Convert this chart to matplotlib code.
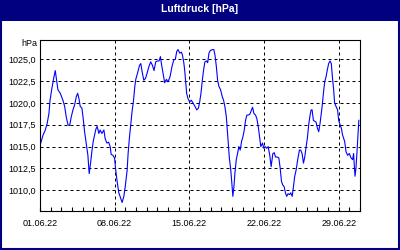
import pandas as pd
import matplotlib
matplotlib.use('Agg')
import matplotlib.pyplot as plt
import matplotlib.dates as mdates
from matplotlib.ticker import FuncFormatter
from matplotlib.patches import Rectangle

plt.rcParams['font.family'] = ['Liberation Sans', 'DejaVu Sans']

# days since 01.06.22 and pressure in hPa
days = [0.07, 0.28, 0.50, 0.68, 0.84, 0.94, 1.12, 1.28, 1.43, 1.56, 1.68, 1.84, 1.90,
        2.15, 2.31, 2.46, 2.62, 2.78, 2.93, 3.09, 3.25, 3.40, 3.53, 3.65, 3.77, 3.93,
        4.05, 4.18, 4.33, 4.49, 4.61, 4.74, 4.86, 4.99, 5.12, 5.24, 5.36, 5.52, 5.64,
        5.80, 5.99, 6.11, 6.27, 6.43, 6.58, 6.67, 6.83, 6.99, 7.08, 7.23, 7.39, 7.53,
        7.70, 7.86, 8.00, 8.17, 8.26, 8.39, 8.51, 8.63, 8.77, 8.89, 8.98, 9.14, 9.33,
        9.45, 9.57, 9.73, 9.89, 10.04, 10.22, 10.38, 10.54, 10.69, 10.85, 11.01, 11.16,
        11.29, 11.38, 11.53, 11.69, 11.85, 12.00, 12.19, 12.38, 12.54, 12.69, 12.82,
        12.94, 13.10, 13.26, 13.35, 13.47, 13.56, 13.66, 13.75, 13.87, 14.03, 14.19,
        14.34, 14.53, 14.69, 14.85, 14.97, 15.09, 15.22, 15.34, 15.46, 15.62, 15.72,
        15.84, 15.97, 16.16, 16.30, 16.40, 16.53, 16.65, 16.77, 16.93, 17.09, 17.21,
        17.33, 17.47, 17.56, 17.65, 17.75, 17.87, 17.96, 18.08, 18.18, 18.27, 18.40,
        18.52, 18.64, 18.77, 18.90, 19.02, 19.15, 19.27, 19.39, 19.52, 19.67, 19.83,
        19.93, 20.05, 20.21, 20.33, 20.46, 20.58, 20.70, 20.86, 20.98, 21.11, 21.26,
        21.39, 21.54, 21.67, 21.83, 21.96, 22.08, 22.26, 22.39, 22.52, 22.64, 22.76,
        22.89, 23.01, 23.13, 23.26, 23.39, 23.51, 23.64, 23.76, 23.88, 24.01, 24.16,
        24.32, 24.44, 24.57, 24.70, 24.82, 24.95, 25.07, 25.19, 25.32, 25.42, 25.51,
        25.63, 25.75, 25.88, 26.01, 26.13, 26.26, 26.35, 26.45, 26.57, 26.69, 26.82,
        26.94, 27.06, 27.19, 27.31, 27.41, 27.53, 27.62, 27.75, 27.90, 28.00, 28.13,
        28.25, 28.37, 28.56, 28.69, 28.84, 29.00, 29.16, 29.31, 29.40, 29.53, 29.62,
        29.71, 29.80, 29.89]
pressure = [1015.4, 1016.3, 1016.9, 1017.7, 1018.8, 1020.3, 1021.7, 1022.8, 1023.7, 1022.6,
            1021.5, 1021.2, 1021.1, 1020.3, 1019.6, 1018.4, 1017.5, 1017.4, 1018.4, 1019.2,
            1019.8, 1020.7, 1021.1, 1020.5, 1019.6, 1019.4, 1018.2, 1016.7, 1015.4, 1014.0,
            1011.9, 1013.1, 1014.4, 1015.6, 1016.3, 1017.0, 1017.3, 1016.5, 1016.9, 1016.5,
            1016.9, 1015.9, 1015.4, 1015.5, 1015.0, 1014.1, 1014.0, 1013.7, 1012.5, 1011.0,
            1009.7, 1009.2, 1008.6, 1009.3, 1010.5, 1012.3, 1014.2, 1016.1, 1017.5, 1019.0,
            1020.3, 1021.9, 1022.7, 1023.4, 1024.3, 1024.5, 1023.6, 1022.6, 1022.8, 1023.4,
            1024.2, 1024.7, 1024.3, 1023.7, 1024.7, 1024.8, 1024.8, 1025.3, 1024.5, 1023.4,
            1022.3, 1022.7, 1022.4, 1023.0, 1024.2, 1024.9, 1025.0, 1025.9, 1026.1, 1025.7,
            1025.8, 1025.5, 1024.7, 1023.8, 1022.3, 1021.1, 1020.5, 1020.1, 1020.3, 1020.0,
            1019.6, 1019.2, 1019.4, 1020.1, 1021.1, 1022.6, 1023.8, 1024.7, 1024.8, 1024.6,
            1025.7, 1026.0, 1026.1, 1026.1, 1025.5, 1024.2, 1022.6, 1021.9, 1021.5, 1020.7,
            1020.3, 1019.6, 1018.4, 1016.9, 1015.4, 1013.7, 1012.5, 1011.2, 1009.3, 1010.4,
            1011.9, 1013.5, 1014.2, 1015.0, 1014.6, 1015.6, 1016.1, 1016.9, 1018.0, 1018.6,
            1018.6, 1018.7, 1019.2, 1019.5, 1018.8, 1018.6, 1018.2, 1017.3, 1016.1, 1015.0,
            1015.4, 1014.8, 1015.0, 1014.8, 1015.0, 1014.0, 1012.7, 1014.2, 1014.3, 1013.8,
            1013.8, 1013.7, 1012.5, 1011.0, 1010.6, 1010.4, 1009.7, 1009.3, 1009.6, 1009.5,
            1009.7, 1009.3, 1010.4, 1011.6, 1012.3, 1013.5, 1014.6, 1014.6, 1014.2, 1013.1,
            1013.8, 1015.0, 1016.0, 1017.5, 1018.6, 1019.2, 1019.2, 1018.0, 1017.9, 1017.8,
            1017.1, 1016.7, 1017.7, 1018.6, 1019.6, 1021.1, 1022.4, 1023.0, 1023.8, 1024.5,
            1024.8, 1024.5, 1023.0, 1021.5, 1020.0, 1019.6, 1019.2, 1018.0, 1017.5, 1017.1,
            1016.3, 1015.6, 1014.4, 1014.0, 1014.2, 1013.7, 1013.5, 1014.2, 1011.6, 1012.5,
            1014.2, 1016.1, 1018.0]

y_ticks = [1010.0, 1012.5, 1015.0, 1017.5, 1020.0, 1022.5, 1025.0]
label_dates = ['2022-06-01', '2022-06-08', '2022-06-15', '2022-06-22', '2022-06-29']

navy = '#000080'
start = pd.Timestamp('2022-06-01')
times = start + pd.to_timedelta(days, unit='D')

fig = plt.figure(figsize=(4, 2.5), dpi=100)
fig.patch.set_facecolor('white')

# title bar and frame
fig.patches.append(Rectangle((0, 0.916), 1, 0.084, transform=fig.transFigure,
                             facecolor=navy, edgecolor='none', zorder=0))
fig.patches.append(Rectangle((0.002, 0.004), 0.995, 0.994, transform=fig.transFigure,
                             facecolor='none', edgecolor=navy, linewidth=1.5, zorder=5))
fig.text(0.5, 0.962, 'Luftdruck [hPa]', color='white', fontsize=7.5, fontweight='bold',
         ha='center', va='center')

ax = fig.add_axes([0.1, 0.157, 0.8, 0.683])
ax.plot(times, pressure, color='#0000ff', linewidth=0.8)

ax.set_xlim(start, pd.Timestamp('2022-07-01'))
ax.set_ylim(1007.65, 1027.2)

ax.set_xticks(pd.to_datetime(label_dates))
ax.xaxis.set_minor_locator(mdates.DayLocator())
ax.xaxis.set_major_formatter(mdates.DateFormatter('%d.%m.%y'))
ax.set_yticks(y_ticks)
ax.yaxis.set_major_formatter(FuncFormatter(lambda v, p: f'{v:.1f}'.replace('.', ',')))

ax.tick_params(axis='x', which='both', direction='in', length=3, width=0.8,
               labelsize=6.5, pad=6, top=False)
ax.tick_params(axis='y', length=0, labelsize=6.5, pad=3)
ax.grid(True, which='major', color='black', linestyle=(0, (3, 3)), linewidth=0.72)

for s in ax.spines.values():
    s.set_linewidth(0.8)
    s.set_color('black')

fig.text(0.0925, 0.824, 'hPa', fontsize=6.5, ha='right', va='center')

plt.savefig('out.png', dpi=100)
